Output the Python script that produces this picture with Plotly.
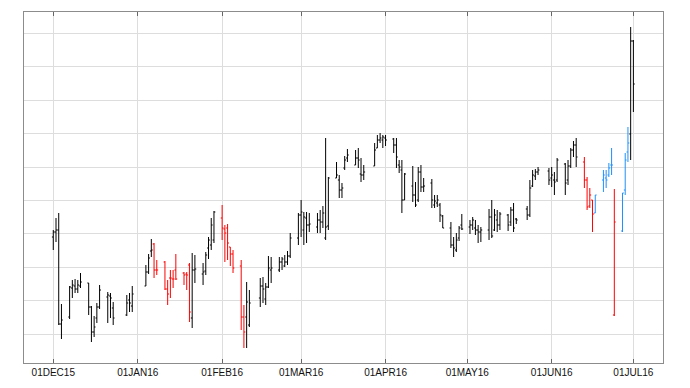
import plotly.graph_objects as go

dates = [
    "2015-12-01","2015-12-02","2015-12-03","2015-12-04","2015-12-07","2015-12-08","2015-12-09","2015-12-10","2015-12-11",
    "2015-12-14","2015-12-15","2015-12-16","2015-12-17","2015-12-18","2015-12-21","2015-12-22","2015-12-23",
    "2015-12-28","2015-12-29","2015-12-30",
    "2016-01-04","2016-01-05","2016-01-06","2016-01-07","2016-01-08","2016-01-11","2016-01-12","2016-01-13",
    "2016-01-14","2016-01-15","2016-01-18","2016-01-19","2016-01-20","2016-01-21","2016-01-22","2016-01-25",
    "2016-01-26","2016-01-27","2016-01-28","2016-01-29",
    "2016-02-01","2016-02-02","2016-02-03","2016-02-04","2016-02-05","2016-02-08","2016-02-09","2016-02-10",
    "2016-02-11","2016-02-15","2016-02-16","2016-02-17","2016-02-18","2016-02-19","2016-02-22","2016-02-23",
    "2016-02-24","2016-02-25","2016-02-26","2016-02-29",
    "2016-03-01","2016-03-02","2016-03-03","2016-03-04","2016-03-07","2016-03-08","2016-03-09","2016-03-10",
    "2016-03-11","2016-03-14","2016-03-15","2016-03-16","2016-03-17","2016-03-18","2016-03-21","2016-03-22",
    "2016-03-23","2016-03-24","2016-03-28","2016-03-29","2016-03-30","2016-03-31","2016-04-01",
    "2016-04-04","2016-04-05","2016-04-06","2016-04-07","2016-04-08","2016-04-11","2016-04-12","2016-04-13",
    "2016-04-14","2016-04-15","2016-04-18","2016-04-19","2016-04-20","2016-04-21","2016-04-22","2016-04-25",
    "2016-04-26","2016-04-27","2016-04-28","2016-04-29",
    "2016-05-02","2016-05-03","2016-05-04","2016-05-05","2016-05-06","2016-05-09","2016-05-10","2016-05-11",
    "2016-05-12","2016-05-13","2016-05-16","2016-05-17","2016-05-18","2016-05-19","2016-05-23","2016-05-24",
    "2016-05-25","2016-05-26","2016-05-27","2016-05-31",
    "2016-06-01","2016-06-02","2016-06-03","2016-06-06","2016-06-07","2016-06-08","2016-06-09","2016-06-10",
    "2016-06-13","2016-06-14","2016-06-15","2016-06-16","2016-06-17","2016-06-20","2016-06-21","2016-06-22",
    "2016-06-23","2016-06-24","2016-06-27","2016-06-28","2016-06-29","2016-06-30","2016-07-01",
]

opens = [
    16.3,16.8,17.0,7.6,8.3,11.2,11.4,11.1,11.4,11.7,9.3,6.8,8.2,9.3,10.3,10.4,9.2,8.5,10.0,9.4,
    11.4,12.8,14.9,15.6,13.0,13.8,11.1,12.2,12.1,13.0,12.7,12.6,13.5,8.2,13.0,12.6,12.9,15.2,15.5,16.0,
    18.2,17.1,17.2,15.3,14.6,13.4,8.3,8.3,7.5,10.2,11.4,10.1,11.3,13.0,13.0,13.8,13.4,13.8,14.4,16.2,
    18.5,17.0,18.2,17.5,17.3,18.0,17.8,16.2,17.4,22.2,22.0,21.0,23.2,24.2,23.5,24.2,22.6,22.5,23.4,25.2,26.0,26.0,26.2,
    26.1,25.5,23.5,23.0,20.0,21.4,20.5,20.0,22.8,21.3,21.7,19.5,19.7,19.5,18.4,17.2,15.5,15.0,16.2,17.5,
    17.3,17.5,17.2,17.0,16.8,17.0,18.3,17.0,18.0,17.5,18.5,17.8,19.0,18.1,19.1,18.5,21.4,22.4,22.8,22.9,
    22.2,22.0,22.0,23.6,22.0,23.4,25.0,25.5,23.8,22.0,19.4,20.0,18.7,22.0,22.2,22.5,23.5,8.5,16.9,21.0,24.8,26.6,35.9,
]

highs = [
    17.0,18.2,18.7,9.6,11.4,12.0,12.1,12.0,12.7,11.7,9.4,8.4,9.7,11.5,10.8,10.7,9.8,10.5,10.7,11.4,
    13.5,14.6,16.1,15.7,14.0,13.9,12.0,13.0,13.0,14.6,12.8,12.8,13.7,14.7,14.5,13.7,14.8,16.3,18.2,18.9,
    19.5,17.5,17.6,15.3,15.0,14.0,9.5,11.8,11.0,12.2,12.3,11.7,14.4,14.3,14.3,14.3,14.5,14.9,16.7,18.7,
    20.0,18.8,18.8,18.7,18.7,19.0,19.4,26.2,22.3,23.8,22.5,21.7,24.4,25.1,25.0,25.2,24.2,23.5,25.7,26.5,26.7,26.5,26.5,
    26.2,26.2,24.0,24.0,22.7,23.4,21.8,23.3,23.5,22.2,22.1,20.5,20.5,19.7,18.5,17.8,16.3,16.7,17.4,18.6,
    18.0,18.3,18.0,17.5,17.3,19.1,20.0,19.1,19.0,18.8,18.6,19.3,19.7,18.2,19.4,22.0,23.0,23.1,23.3,23.2,
    23.3,22.8,24.2,23.7,24.0,25.2,25.9,26.2,24.3,22.3,21.2,20.0,20.5,23.0,23.0,23.7,25.2,21.1,20.7,24.7,27.3,37.3,36.0,
]

lows = [
    15.0,15.8,7.5,6.1,8.1,10.2,10.7,10.7,11.2,8.5,5.8,6.3,7.7,9.1,7.7,8.2,7.5,8.4,8.8,8.8,
    11.4,12.6,14.3,12.2,12.5,11.0,9.5,10.2,11.2,12.0,11.5,11.0,7.8,7.2,11.7,11.5,12.5,14.1,15.0,15.7,
    16.0,13.8,14.0,13.4,12.7,7.0,5.2,5.2,7.3,9.3,9.7,9.5,11.2,11.7,12.8,13.0,13.3,13.5,14.2,15.5,
    16.3,15.5,15.7,16.8,16.7,16.7,17.2,16.0,17.0,22.2,20.2,20.2,23.0,23.8,23.5,23.2,21.8,22.0,23.4,25.2,25.7,25.2,25.4,
    24.7,23.2,22.7,18.7,20.0,19.8,19.3,19.8,20.8,20.8,19.2,19.2,19.3,17.8,17.2,15.2,14.3,14.8,15.9,17.0,
    16.6,17.0,16.5,15.7,15.8,16.0,16.2,16.9,16.8,17.0,16.9,17.4,16.8,17.6,18.0,18.3,21.3,22.0,22.5,21.5,
    21.3,20.5,21.8,20.5,21.5,23.2,24.3,23.3,21.2,19.0,19.2,16.8,18.7,20.8,21.2,22.3,22.5,8.4,16.8,20.5,23.8,24.0,28.8,
]

closes = [
    16.8,17.0,7.6,8.0,11.3,11.5,11.1,11.5,11.8,9.3,6.8,7.3,9.3,11.0,10.5,10.2,8.2,9.7,9.7,10.6,
    12.8,14.2,15.0,13.0,13.0,11.1,10.6,12.2,12.1,12.1,12.5,12.5,8.8,13.0,13.1,12.8,14.5,16.0,17.5,18.8,
    17.2,16.7,15.7,14.6,13.2,8.3,6.8,9.8,9.7,11.4,11.1,11.3,13.2,13.2,13.8,14.1,13.8,14.4,16.2,18.5,
    18.8,18.3,17.5,17.6,18.0,17.8,18.7,17.3,22.2,22.5,21.0,21.2,24.0,24.5,24.2,24.0,22.5,22.8,25.0,26.0,26.2,26.3,26.0,
    25.5,24.3,23.3,20.0,22.6,20.5,19.5,22.8,21.3,21.4,20.0,19.9,20.0,18.5,17.2,15.5,15.2,16.0,17.2,17.1,
    17.5,18.0,17.0,16.8,17.0,18.3,16.4,18.5,17.5,18.6,17.5,19.0,17.2,18.0,18.5,21.2,22.5,22.8,23.0,22.0,
    22.5,21.8,24.0,21.7,23.4,25.0,25.5,24.3,22.0,19.3,20.5,18.6,20.5,22.5,22.0,23.2,23.5,17.8,20.7,24.0,25.7,35.9,31.6,
]

groups = (
    ["k"] * 23 + ["r"] * 10 + ["k"] * 7 + ["r"] * 7 + ["k"] * 84
    + ["r"] * 4 + ["b"] * 5 + ["r"] + ["b"] * 3 + ["k"] * 2
)

group_colors = {"k": "#000000", "r": "#FF0000", "b": "#1E90FF"}

month_ticks = ["2015-12-01","2016-01-01","2016-02-01","2016-03-01","2016-04-01","2016-05-01","2016-06-01","2016-07-01"]
month_labels = ["01DEC15","01JAN16","01FEB16","01MAR16","01APR16","01MAY16","01JUN16","01JUL16"]

fig = go.Figure()
for g, col in group_colors.items():
    idx = [i for i, gg in enumerate(groups) if gg == g]
    fig.add_trace(go.Ohlc(
        x=[dates[i] for i in idx],
        open=[opens[i] for i in idx],
        high=[highs[i] for i in idx],
        low=[lows[i] for i in idx],
        close=[closes[i] for i in idx],
        increasing=dict(line=dict(color=col, width=1)),
        decreasing=dict(line=dict(color=col, width=1)),
        tickwidth=0.5,
        showlegend=False,
        hoverinfo="skip",
    ))

fig.update_layout(
    width=682, height=380, autosize=False,
    margin=dict(l=16, r=27, t=4, b=25),
    paper_bgcolor="white", plot_bgcolor="white",
    font=dict(family="Liberation Sans, Arial, sans-serif", size=10, color="#111111"),
    showlegend=False,
)
fig.update_xaxes(
    type="date",
    range=["2015-11-20 06:00", "2016-07-11 21:00"],
    rangeslider=dict(visible=False),
    tickmode="array", tickvals=month_ticks, ticktext=month_labels,
    showgrid=True, gridcolor="#DDDDDD", gridwidth=1,
    showline=True, linecolor="#8C8C8C", linewidth=1, mirror="ticks",
    ticks="inside", ticklen=4, tickcolor="#666666", tickwidth=1,
    zeroline=False,
)
fig.update_yaxes(
    range=[3.7, 38.8],
    tickmode="linear", tick0=6.6, dtick=3.34,
    showticklabels=False, ticks="",
    showgrid=True, gridcolor="#DDDDDD", gridwidth=1,
    showline=True, linecolor="#8C8C8C", linewidth=1, mirror=True,
    zeroline=False,
)

fig.write_html("out.html")
